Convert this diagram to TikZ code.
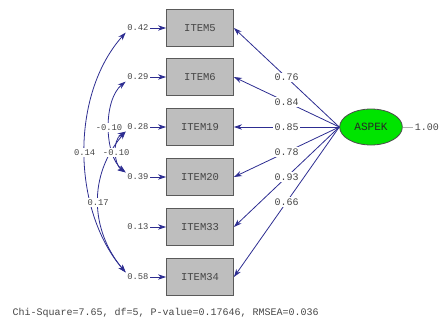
\documentclass[tikz,border=0pt]{standalone}
\usepackage{fontspec}
\setmonofont{Liberation Mono}
\usepackage{tikz}
\usetikzlibrary{shapes.geometric, arrows.meta, positioning, calc}
\usepackage{xcolor}
\definecolor{pathblue}{RGB}{45, 45, 145}
\definecolor{boxgray}{RGB}{190, 190, 190}
\definecolor{boxedge}{RGB}{90, 90, 90}
\definecolor{latentgreen}{RGB}{0, 228, 0}
\definecolor{labelgray}{RGB}{70, 70, 70}
\tikzstyle{item} = [draw=boxedge, fill=boxgray, line width=0.9pt, minimum width=50pt, minimum height=27.5pt, inner sep=0pt, text=labelgray, font=\ttfamily\fontsize{7.9}{8}\selectfont]
\tikzstyle{latent} = [ellipse, draw=black!70, fill=latentgreen, line width=0.6pt, minimum width=47pt, minimum height=27pt, inner sep=0pt, text=black!85, font=\ttfamily\fontsize{8.3}{9}\selectfont]
\tikzstyle{errlabel} = [inner sep=1pt, text=labelgray, font=\ttfamily\fontsize{6.6}{7}\selectfont]
\tikzstyle{loading} = [fill=white, inner sep=1pt, text=labelgray, font=\ttfamily\fontsize{7.5}{8}\selectfont]
\tikzstyle{covlabel} = [fill=white, inner sep=1pt, text=labelgray, font=\ttfamily\fontsize{6.6}{7}\selectfont]
\tikzstyle{arrow} = [line width=0.6pt, -{Stealth[length=6pt, width=4pt]}, pathblue]
\tikzstyle{covar} = [line width=0.6pt, {Stealth[length=6pt, width=4pt]}-{Stealth[length=6pt, width=4pt]}, pathblue]

\begin{document}
\begin{tikzpicture}[x=0.75pt, y=-0.75pt]
\useasboundingbox (0,0) rectangle (441,326);
% observed items
\node[item] (i5) at (200,28) {ITEM5};
\node[item] (i6) at (200,77) {ITEM6};
\node[item] (i19) at (200,127) {ITEM19};
\node[item] (i20) at (200,177) {ITEM20};
\node[item] (i33) at (200,227) {ITEM33};
\node[item] (i34) at (200,277) {ITEM34};
% error variances
\node[errlabel, anchor=east] (e5) at (150,28) {0.42};
\node[errlabel, anchor=east] (e6) at (150,77) {0.29};
\node[errlabel, anchor=east] (e19) at (150,127) {0.28};
\node[errlabel, anchor=east] (e20) at (150,177) {0.39};
\node[errlabel, anchor=east] (e33) at (150,227) {0.13};
\node[errlabel, anchor=east] (e34) at (150,277) {0.58};
\foreach \n in {5,6,19,20,33,34}
  \draw[arrow] (e\n) -- (i\n);
% latent factor
\node[latent] (aspek) at (371,127) {ASPEK};
\node[loading, anchor=east, fill=none] (var) at (440.5,127) {1.00};
\draw[gray!60, line width=0.5pt] (aspek.east) -- (var.west);
% loadings
\draw[arrow] (aspek.west) -- node[loading] {0.76} (i5.east);
\draw[arrow] (aspek.west) -- node[loading] {0.84} (i6.east);
\draw[arrow] (aspek.west) -- node[loading] {0.85} (i19.east);
\draw[arrow] (aspek.west) -- node[loading] {0.78} (i20.east);
\draw[arrow] (aspek.west) -- node[loading] {0.93} (i33.east);
\draw[arrow] (aspek.west) -- node[loading] {0.66} (i34.east);
% error covariances
\draw[covar] (e5.south west) .. controls (70,95) and (72,210) .. node[covlabel] {0.14} (e34.north west);
\draw[covar] (e19.south west) .. controls (88,175) and (90,230) .. node[covlabel] {0.17} (e34.north west);
\draw[covar] (e6.south west) .. controls (103,100) and (104,155) .. node[covlabel] {-0.10} (e20.north west);
\draw[covar] (e19.south west) .. controls (112,140) and (114,165) .. node[covlabel] {-0.10} (e20.north west);
% fit statistics
\node[loading, fill=none, anchor=west] (fit) at (11,313) {Chi-Square=7.65, df=5, P-value=0.17646, RMSEA=0.036};
\end{tikzpicture}
\end{document}
